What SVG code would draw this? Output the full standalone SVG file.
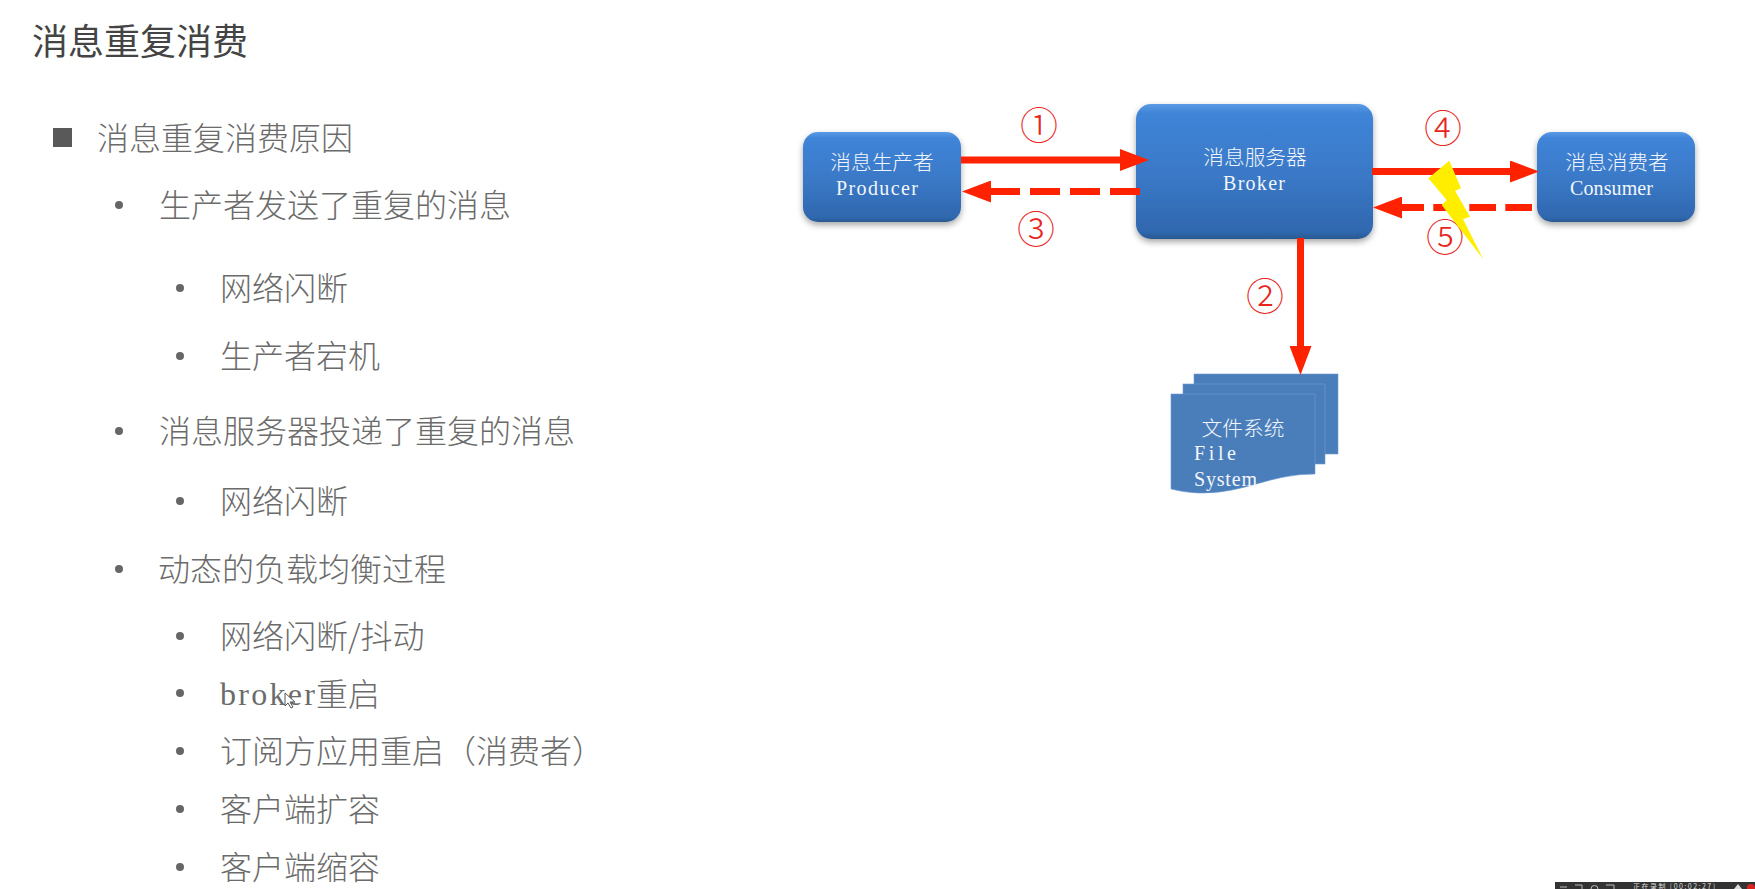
<svg xmlns="http://www.w3.org/2000/svg" width="1755" height="889" viewBox="0 0 1755 889">
<style>
text{font-family:"Noto Sans CJK SC","Liberation Sans",sans-serif}
.title{font-size:36px;fill:#444}
.l{font-size:32px;fill:#6b6b6b;font-weight:300}
.m{font-family:"Liberation Serif","Noto Sans CJK SC",serif}
.n{font-size:20.7px;fill:#f2f6fb;text-anchor:middle;font-weight:300}
.e{font-size:20px;fill:#f2f6fb}
.f{font-size:20px;fill:#f2f6fb}
.num{font-family:"Noto Sans CJK SC",sans-serif;font-size:38px;fill:#e8261c;text-anchor:middle;font-weight:300}
.b{fill:#666}
.box{fill:url(#bg);filter:url(#sh)}
.page{fill:#4a7ebb;stroke:#6f9ad0;stroke-width:.6}
.c{stroke:#ff2200;stroke-width:7;fill:none}
.d{stroke-dasharray:30 10}
.d2{stroke-dasharray:26.7 9.3}
.ic{fill:none;stroke:#bbb;stroke-width:1}
</style>
<defs>
<linearGradient id="bg" x1="0" y1="0" x2="0" y2="1">
<stop offset="0" stop-color="#5b9be4"/><stop offset=".07" stop-color="#3f84d8"/><stop offset=".55" stop-color="#3a78c6"/><stop offset=".95" stop-color="#2f67ae"/><stop offset="1" stop-color="#29598f"/>
</linearGradient>
<filter id="sh" x="-10%" y="-10%" width="120%" height="130%"><feDropShadow dx="0" dy="3" stdDeviation="3" flood-color="#000" flood-opacity=".35"/></filter>
<marker id="a" markerUnits="userSpaceOnUse" markerWidth="30" markerHeight="22" refX="0" refY="11" orient="auto"><polygon points="0,0 29,11 0,22" fill="#ff2200"/></marker>
</defs>
<rect width="1755" height="889" fill="#fff"/>
<text class="title" x="32" y="55">消息重复消费</text>
<g id="list">
<rect x="53" y="128" width="19" height="19" fill="#595959"/>
<text class="l" x="97" y="150">消息重复消费原因</text>
<circle class="b" cx="119" cy="205" r="4"/><text class="l" x="159" y="217">生产者发送了重复的消息</text>
<circle class="b" cx="180" cy="288" r="4"/><text class="l" x="220" y="300">网络闪断</text>
<circle class="b" cx="180" cy="356" r="4"/><text class="l" x="220" y="368">生产者宕机</text>
<circle class="b" cx="119" cy="431" r="4"/><text class="l" x="159" y="443">消息服务器投递了重复的消息</text>
<circle class="b" cx="180" cy="501" r="4"/><text class="l" x="220" y="513">网络闪断</text>
<circle class="b" cx="119" cy="569" r="4"/><text class="l" x="158" y="581">动态的负载均衡过程</text>
<circle class="b" cx="180" cy="636" r="4"/><text class="l" x="220" y="648">网络闪断/抖动</text>
<circle class="b" cx="180" cy="693" r="4"/><text class="l" x="316" y="706">重启</text><text class="l m" x="220" y="705" font-size="30" textLength="95" lengthAdjust="spacing">broker</text>
<circle class="b" cx="180" cy="751" r="4"/><text class="l" x="220" y="763">订阅方应用重启（消费者）</text>
<circle class="b" cx="180" cy="809" r="4"/><text class="l" x="220" y="821">客户端扩容</text>
<circle class="b" cx="180" cy="867" r="4"/><text class="l" x="220" y="879">客户端缩容</text>
</g>
<polygon id="cursor" points="285,693 285,706 288,703 291,708 293,707 290,702 295,702" fill="#fff" stroke="#555" stroke-width="1"/>
<g id="producer"><rect class="box" x="803" y="132" width="158" height="90" rx="15"/><text class="n" x="882" y="170">消息生产者</text><text class="e m" x="836" y="195" textLength="82" lengthAdjust="spacing">Producer</text></g>
<g id="broker"><rect class="box" x="1136" y="104" width="237" height="135" rx="15"/><text class="n" x="1255" y="165">消息服务器</text><text class="e m" x="1223" y="190" textLength="62" lengthAdjust="spacing">Broker</text></g>
<g id="consumer"><rect class="box" x="1537" y="132" width="158" height="90" rx="15"/><text class="n" x="1617" y="170">消息消费者</text><text class="e m" x="1570" y="195" textLength="83" lengthAdjust="spacing">Consumer</text></g>
<g id="filesystem">
<rect class="page" x="1194" y="374" width="144" height="80"/>
<rect class="page" x="1183" y="384" width="142" height="80"/>
<path class="page" d="M1171 394H1315V474C1270 474 1245 493 1203 493C1190 493 1180 491 1171 489Z"/>
<text class="n" x="1243" y="436">文件系统</text>
<text class="f m" x="1194" y="460" textLength="42" lengthAdjust="spacing">File</text>
<text class="f m" x="1194" y="486" textLength="63" lengthAdjust="spacing">System</text>
</g>
<g id="connectors">
<line class="c" x1="961" y1="160" x2="1120" y2="160" marker-end="url(#a)"/>
<line class="c d" x1="1140" y1="191.5" x2="991" y2="191.5" marker-end="url(#a)"/>
<line class="c" x1="1300.5" y1="238" x2="1300.5" y2="346" marker-end="url(#a)"/>
<line class="c" x1="1372" y1="171.5" x2="1510" y2="171.5" marker-end="url(#a)"/>
<line class="c d2" x1="1532" y1="207.5" x2="1402" y2="207.5" marker-end="url(#a)"/>
</g>
<g id="labels">
<text class="num" x="1039" y="139">①</text>
<text class="num" x="1265" y="310">②</text>
<text class="num" x="1036" y="243">③</text>
<text class="num" x="1443" y="142">④</text>
<text class="num" x="1445" y="251">⑤</text>
</g>
<polygon id="lightning" points="1449.3,160.7 1461,188.3 1455,190.7 1470,216.7 1463,219 1483.3,259.3 1441.7,205 1446.7,200 1428.3,178.3" fill="#ffee00"/>
<g id="taskbar">
<rect x="1555" y="882" width="200" height="7" fill="#333"/>
<path class="ic" d="M1560 887H1567M1575 885H1582V889M1591 889A3.500 3.500 0 0 1 1598 889M1606 885H1614V889"/>
<text x="1633" y="888.500" font-size="7" fill="#ddd" textLength="82" lengthAdjust="spacing">正在录制 [00:02:27]</text>
<path d="M1734 889L1738 884L1742 889Z" fill="#ddd"/>
<circle cx="1751" cy="888" r="4" fill="#d22"/>
</g>
</svg>
